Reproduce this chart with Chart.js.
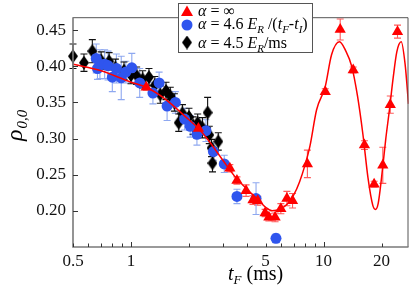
<!DOCTYPE html>
<html><head><meta charset="utf-8">
<script src="https://cdn.jsdelivr.net/npm/chart.js@4"></script>
<style>html,body{margin:0;padding:0;background:#fff;}canvas{display:block;}</style>
</head><body>
<canvas id="c" width="415" height="295"></canvas>
<script>
// ---- data ----
const redX   = [1.20, 2.24, 3.26, 3.55, 3.96, 4.30, 4.55, 4.97, 5.20, 5.60, 6.00, 6.45, 6.90, 8.24, 10.2, 12.2, 14.25, 16.3, 18.3, 20.3, 22.2, 24.2];
const redY   = [0.371,0.314,0.259,0.242,0.228,0.215,0.214,0.197,0.191,0.191,0.203,0.217,0.214,0.265,0.365,0.451,0.395,0.291,0.237,0.263,0.347,0.448];
const redErr = [0.004,0.004,0.005,0.005,0.008,0.006,0.006,0.005,0.005,0.006,0.007,0.010,0.010,0.019,0.004,0.0145,0.004,0.006,0.004,0.025,0.012,0.009];

const blueX   = [0.66, 0.67, 0.69, 0.73, 0.76, 0.80, 0.84, 0.89, 0.94, 1.01, 1.11, 1.30, 1.40, 1.54, 1.70, 1.90, 2.03, 2.20, 2.45, 2.68, 3.05, 3.55, 4.46, 5.66];
const blueY   = [0.411,0.397,0.403,0.403,0.401,0.385,0.397,0.384,0.392,0.398,0.377,0.363,0.377,0.345,0.350,0.327,0.317,0.306,0.311,0.282,0.265,0.220,0.217,0.162];
const blueErr = [0.020,0.015,0.020,0.020,0.020,0.020,0.020,0.030,0.015,0.020,0.020,0.015,0.015,0.020,0.015,0.015,0.015,0.015,0.015,0.012,0.012,0.010,0.022,0.006];

const blackX   = [0.50, 0.57, 0.63, 0.70, 0.77, 0.83, 0.92, 1.00, 1.07, 1.15, 1.24, 1.33, 1.42, 1.52, 1.60, 1.68, 1.77, 1.85, 2.00, 2.10, 2.22, 2.35, 2.50, 2.55, 2.62, 2.65, 2.84];
const blackY   = [0.414,0.405,0.421,0.408,0.407,0.398,0.394,0.388,0.387,0.382,0.385,0.374,0.361,0.366,0.359,0.350,0.322,0.335,0.330,0.318,0.322,0.315,0.336,0.305,0.287,0.266,0.296];
const blackErr = [0.017,0.012,0.016,0.012,0.012,0.012,0.012,0.012,0.012,0.012,0.012,0.012,0.012,0.012,0.012,0.012,0.012,0.012,0.012,0.012,0.012,0.014,0.021,0.012,0.012,0.012,0.012];

const fitX = [0.5, 0.7, 1.0, 1.2, 1.5, 2.0, 2.24, 2.5, 3.0, 3.5, 4.0, 4.5, 5.0, 5.4, 6.0, 6.5, 7.0, 7.5, 8.0, 8.5, 9.2, 10.2, 11.0, 12.1, 13.0, 14.0, 15.0, 16.0, 17.0, 18.0, 18.6, 19.2, 20.0, 21.0, 22.0, 23.0, 24.0, 25.3, 26.5, 27.6];
const fitY = [0.403,0.394,0.378,0.371,0.355,0.326,0.314,0.299,0.270,0.246,0.230,0.217,0.205,0.200,0.203,0.210,0.222,0.240,0.263,0.290,0.340,0.372,0.416,0.434,0.422,0.400,0.359,0.306,0.246,0.208,0.202,0.210,0.246,0.298,0.341,0.385,0.420,0.434,0.403,0.348];

const yTicks = [0.20, 0.25, 0.30, 0.35, 0.40, 0.45];
const xTicks = [0.5, 0.6, 0.7, 0.8, 0.9, 1, 2, 3, 4, 5, 6, 7, 8, 9, 10, 20];
const xLabeled = [0.5, 1, 5, 10, 20];

// ---- styles ----
const SERIF = '"Liberation Serif","Times New Roman",serif';
const RED = '#ff0000', BLUE = '#2f55ee', BLACK = '#000000';

function diamond(w, h, color) {
  const c = document.createElement('canvas'); c.width = w; c.height = h;
  const g = c.getContext('2d'); g.fillStyle = color;
  g.beginPath(); g.moveTo(w/2, 0); g.lineTo(w, h/2); g.lineTo(w/2, h); g.lineTo(0, h/2); g.closePath(); g.fill();
  return c;
}
const diamondImg = diamond(10, 14, BLACK);

const pts = (xs, ys) => xs.map((x, i) => ({x: x, y: ys[i]}));

function rich(ctx, x, y, segs) {
  segs.forEach(s => {
    ctx.font = s.f;
    ctx.fillText(s.t, x, y + (s.dy || 0));
    x += ctx.measureText(s.t).width + (s.sp || 0);
  });
  return x;
}

const errPlugin = {
  id: 'errbars',
  beforeDatasetsDraw(chart) {
    const ctx = chart.ctx, ys = chart.scales.y;
    chart.data.datasets.forEach((ds, i) => {
      if (!ds.errs) return;
      const meta = chart.getDatasetMeta(i);
      ctx.save();
      ctx.strokeStyle = ds.errColor; ctx.lineWidth = 1.1;
      meta.data.forEach((p, j) => {
        const v = ds.data[j].y, e = ds.errs[j];
        const y1 = ys.getPixelForValue(v - e), y2 = ys.getPixelForValue(v + e), x = p.x;
        ctx.beginPath();
        ctx.moveTo(x, y1); ctx.lineTo(x, y2);
        ctx.moveTo(x - 3.5, y1); ctx.lineTo(x + 3.5, y1);
        ctx.moveTo(x - 3.5, y2); ctx.lineTo(x + 3.5, y2);
        ctx.stroke();
      });
      ctx.restore();
    });
  }
};

const decoPlugin = {
  id: 'deco',
  afterDraw(chart) {
    const ctx = chart.ctx, a = chart.chartArea, xs = chart.scales.x, ys = chart.scales.y;
    ctx.save();
    // frame
    ctx.strokeStyle = '#555'; ctx.lineWidth = 1;
    ctx.beginPath(); ctx.moveTo(a.left, a.top + 0.5); ctx.lineTo(a.right - 0.5, a.top + 0.5); ctx.lineTo(a.right - 0.5, a.bottom); ctx.stroke();
    ctx.strokeStyle = '#7a7a7a'; ctx.lineWidth = 1.6;
    ctx.beginPath(); ctx.moveTo(a.left, a.top); ctx.lineTo(a.left, a.bottom); ctx.lineTo(a.right, a.bottom); ctx.stroke();
    // ticks
    ctx.strokeStyle = '#333'; ctx.lineWidth = 1;
    yTicks.forEach(v => { const y = Math.round(ys.getPixelForValue(v)) + 0.5; ctx.beginPath(); ctx.moveTo(a.left, y); ctx.lineTo(a.left + 5, y); ctx.stroke(); });
    xTicks.forEach(v => { const x = Math.round(xs.getPixelForValue(v)) + 0.5; const L = (v === 1 || v === 10) ? 5 : 3.5; ctx.beginPath(); ctx.moveTo(x, a.bottom); ctx.lineTo(x, a.bottom - L); ctx.stroke(); });
    // legend box
    ctx.fillStyle = '#fff'; ctx.fillRect(178, 3, 135, 50);
    ctx.strokeStyle = '#555'; ctx.lineWidth = 1; ctx.strokeRect(178.5, 3.5, 134, 49);
    // legend markers
    ctx.fillStyle = RED; ctx.beginPath(); ctx.moveTo(187, 5.5); ctx.lineTo(193, 16); ctx.lineTo(181, 16); ctx.closePath(); ctx.fill();
    ctx.fillStyle = BLUE; ctx.beginPath(); ctx.arc(187, 25, 5.5, 0, Math.PI * 2); ctx.fill();
    ctx.drawImage(diamondImg, 187 - 5, 42.5 - 7);
    // legend text
    ctx.fillStyle = '#000'; ctx.textBaseline = 'alphabetic'; ctx.textAlign = 'left';
    const N = '16px ' + SERIF, I = 'italic 16px ' + SERIF, S = 'italic 11px ' + SERIF;
    rich(ctx, 198, 15.5, [{t: 'α', f: I}, {t: ' = ∞', f: N}]);
    rich(ctx, 198, 29, [{t: 'α', f: I}, {t: ' = 4.6 ', f: N}, {t: 'E', f: I}, {t: 'R', f: S, dy: 4}, {t: ' /(', f: N}, {t: 't', f: I}, {t: 'F', f: S, dy: 4}, {t: '-', f: N}, {t: 't', f: I}, {t: 'I', f: S, dy: 4}, {t: ')', f: N}]);
    rich(ctx, 198, 48, [{t: 'α', f: I}, {t: ' = 4.5 ', f: N}, {t: 'E', f: I}, {t: 'R', f: S, dy: 4}, {t: '/ms', f: N}]);
    // x title
    rich(ctx, 228, 280, [{t: 't', f: 'italic 20px ' + SERIF}, {t: 'F', f: 'italic 13px ' + SERIF, dy: 4}, {t: ' (ms)', f: '20px ' + SERIF}]);
    // y title
    ctx.translate(22, 141); ctx.rotate(-Math.PI / 2);
    rich(ctx, 0, 0, [{t: 'ρ', f: 'italic 24px ' + SERIF, sp: 1}, {t: '0,0', f: 'italic 15px ' + SERIF, dy: 5}]);
    ctx.restore();
  }
};

new Chart(document.getElementById('c'), {
  type: 'scatter',
  data: {
    datasets: [
      {type: 'line', label: 'fit', data: pts(fitX, fitY), borderColor: RED, borderWidth: 1.5, pointRadius: 0, fill: false, cubicInterpolationMode: 'monotone', order: 0},
      {label: 'α = ∞', data: pts(redX, redY), errs: redErr, errColor: '#ff5a5a', pointStyle: 'triangle', pointRadius: 6.5, backgroundColor: RED, borderColor: RED, borderWidth: 0, clip: false, order: 1},
      {label: 'α = 4.6 E_R/(t_F-t_I)', data: pts(blueX, blueY), errs: blueErr, errColor: '#8ea8f0', pointStyle: 'circle', pointRadius: 5.5, backgroundColor: BLUE, borderColor: BLUE, borderWidth: 0, clip: false, order: 2},
      {label: 'α = 4.5 E_R/ms', data: pts(blackX, blackY), errs: blackErr, errColor: '#111', pointStyle: diamondImg, pointRadius: 5, backgroundColor: BLACK, borderColor: BLACK, borderWidth: 0, clip: false, order: 3}
    ]
  },
  options: {
    responsive: false, animation: false, devicePixelRatio: 1,
    layout: {padding: {top: 3, right: 2, left: 0, bottom: 0}},
    plugins: {legend: {display: false}, tooltip: {enabled: false}},
    scales: {
      x: {
        type: 'logarithmic', min: 0.5, max: 27.6, position: 'bottom',
        grid: {display: false, drawTicks: false}, border: {display: false},
        afterBuildTicks: s => { s.ticks = xTicks.map(v => ({value: v})); },
        afterFit: s => { s.height = 48; },
        ticks: {autoSkip: false, maxRotation: 0, padding: 4, color: '#111', font: {family: SERIF, size: 17},
          callback: v => xLabeled.includes(v) ? String(v) : ''}
      },
      y: {
        type: 'linear', min: 0.15, max: 0.468,
        grid: {display: false, drawTicks: false}, border: {display: false},
        afterBuildTicks: s => { s.ticks = yTicks.map(v => ({value: v})); },
        afterFit: s => { s.width = 73; },
        ticks: {padding: 7, color: '#111', font: {family: SERIF, size: 17}, callback: v => v.toFixed(2)}
      }
    }
  },
  plugins: [errPlugin, decoPlugin]
});
</script>
</body></html>
